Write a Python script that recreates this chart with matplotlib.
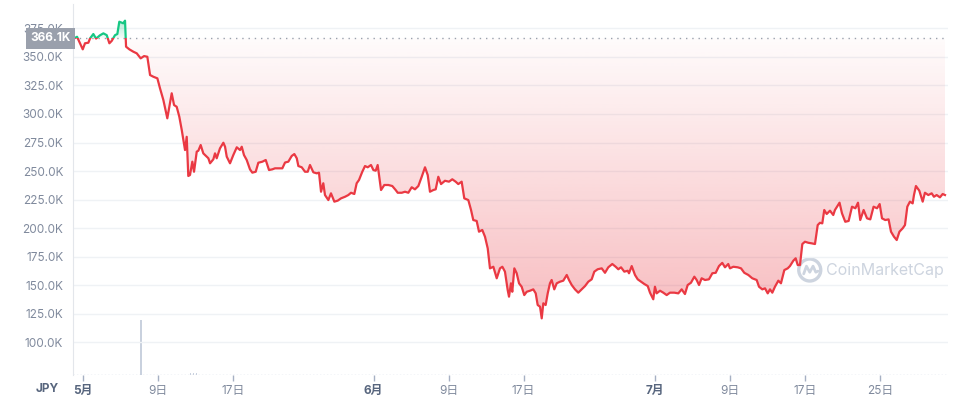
import numpy as np
import pandas as pd
import matplotlib
matplotlib.use("Agg")
import matplotlib.pyplot as plt
import matplotlib.dates as mdates
from matplotlib.path import Path
from matplotlib.patches import Rectangle, Ellipse
from matplotlib.transforms import blended_transform_factory

plt.rcParams['font.family'] = ['Inter', 'Noto Sans CJK JP', 'DejaVu Sans']

# ETH / JPY, 2022-05 .. 2022-07 (values in thousand JPY)
START = "2022-05-01"
day_offsets = [
    -0.96, -0.64, -0.03, 0.21, 0.57, 0.75, 1.10, 1.39, 1.81, 2.17,
    2.53, 2.81, 3.06, 3.41, 3.66, 3.87, 4.13, 4.30, 4.48, 4.59,
    4.94, 5.37, 5.73, 6.15, 6.51, 6.86, 7.15, 7.50, 7.93, 8.21,
    8.57, 8.99, 9.46, 9.71, 9.99, 10.27, 10.53, 10.88, 11.06, 11.23,
    11.41, 11.66, 11.84, 12.13, 12.30, 12.55, 12.83, 13.19, 13.37, 13.55,
    13.90, 14.08, 14.26, 14.61, 14.97, 15.15, 15.33, 15.68, 16.03, 16.40,
    16.75, 16.93, 17.17, 17.46, 17.81, 18.06, 18.42, 18.70, 19.13, 19.49,
    19.84, 20.19, 20.48, 20.91, 21.26, 21.55, 21.90, 22.26, 22.54, 22.80,
    22.97, 23.33, 23.68, 23.97, 24.21, 24.57, 24.93, 25.17, 25.39, 25.63,
    25.81, 26.17, 26.45, 26.81, 27.17, 27.52, 27.95, 28.30, 28.59, 28.94,
    29.19, 29.44, 29.79, 30.08, 30.37, 30.72, 30.97, 31.22, 31.43, 31.79,
    32.14, 32.57, 32.99, 33.35, 33.57, 34.00, 34.35, 34.70, 35.06, 35.41,
    35.77, 36.13, 36.48, 36.77, 37.01, 37.37, 37.62, 37.90, 38.19, 38.61,
    39.04, 39.39, 39.75, 40.03, 40.39, 40.67, 41.10, 41.39, 41.63, 41.99,
    42.24, 42.59, 42.88, 43.17, 43.41, 43.77, 44.13, 44.48, 44.73, 45.01,
    45.30, 45.44, 45.65, 45.79, 46.01, 46.26, 46.51, 46.79, 47.07, 47.33,
    47.68, 48.03, 48.29, 48.50, 48.75, 48.93, 49.10, 49.35, 49.57, 49.81,
    49.99, 50.27, 50.53, 50.88, 51.23, 51.60, 51.84, 52.13, 52.48, 52.83,
    53.19, 53.55, 53.90, 54.26, 54.54, 54.90, 55.33, 55.68, 56.03, 56.46,
    56.82, 57.10, 57.39, 57.74, 58.10, 58.24, 58.53, 58.88, 59.17, 59.52,
    59.87, 60.24, 60.48, 60.83, 61.01, 61.19, 61.55, 61.90, 62.26, 62.61,
    63.07, 63.50, 63.86, 64.21, 64.50, 64.85, 65.21, 65.46, 65.71, 65.99,
    66.35, 66.77, 67.13, 67.49, 67.84, 68.19, 68.48, 68.83, 69.01, 69.37,
    69.84, 70.19, 70.54, 70.97, 71.39, 71.86, 72.11, 72.46, 72.75, 73.04,
    73.28, 73.53, 73.81, 74.17, 74.45, 74.81, 75.17, 75.41, 75.77, 76.02,
    76.24, 76.48, 76.73, 77.01, 77.37, 77.73, 78.08, 78.37, 78.61, 78.86,
    79.07, 79.33, 79.68, 80.03, 80.21, 80.70, 80.96, 81.31, 81.67, 82.03,
    82.39, 82.67, 82.91, 83.27, 83.63, 83.98, 84.33, 84.70, 84.98, 85.23,
    85.58, 85.93, 86.19, 86.51, 86.80, 87.09, 87.44, 87.68, 87.93, 88.21,
    88.50, 88.64, 88.85, 89.21, 89.57, 89.81, 90.17, 90.53, 90.77, 91.06,
    91.41, 91.70, 91.95,
]
prices_k = [
    366.1, 367.6, 356.6, 361.9, 362.4, 366.2, 370.0, 366.0, 368.9, 370.6,
    369.0, 361.9, 364.0, 369.0, 370.0, 380.8, 380.0, 379.4, 381.7, 358.9,
    356.6, 354.5, 353.1, 348.7, 350.7, 350.1, 334.1, 332.6, 331.2, 322.5,
    312.2, 296.2, 318.1, 307.8, 306.3, 297.6, 286.0, 268.4, 280.0, 245.7,
    246.5, 258.2, 249.4, 267.0, 267.8, 272.8, 265.5, 262.6, 261.2, 256.8,
    260.3, 265.5, 261.2, 269.9, 274.8, 271.3, 262.6, 256.8, 264.0, 270.8,
    268.4, 271.3, 264.0, 259.7, 251.5, 248.6, 249.4, 257.3, 258.2, 259.7,
    250.9, 251.5, 252.4, 252.4, 252.4, 257.5, 258.2, 263.2, 264.9, 261.2,
    254.4, 253.3, 249.4, 249.4, 255.3, 248.9, 248.0, 248.6, 231.9, 239.3,
    229.0, 224.6, 230.5, 223.2, 224.1, 226.1, 227.5, 229.0, 231.0, 229.9,
    239.3, 242.2, 249.4, 254.4, 253.3, 255.3, 250.9, 250.3, 255.3, 233.4,
    237.8, 237.8, 236.9, 233.4, 231.0, 231.0, 231.9, 231.0, 235.8, 234.0,
    236.9, 245.0, 253.3, 246.5, 231.9, 233.4, 234.0, 245.0, 238.6, 241.5,
    240.7, 242.8, 240.7, 238.6, 240.7, 226.1, 224.6, 215.9, 207.1, 206.3,
    196.9, 198.4, 192.5, 182.3, 164.8, 166.2, 156.1, 164.8, 166.2, 161.9,
    145.8, 140.0, 151.7, 144.3, 164.8, 160.5, 151.7, 148.7, 141.4, 144.3,
    145.2, 146.4, 142.9, 132.7, 131.2, 121.0, 134.2, 132.7, 142.9, 151.7,
    154.6, 146.4, 151.7, 153.1, 154.0, 159.0, 154.6, 150.2, 146.4, 143.5,
    146.4, 149.3, 153.1, 155.2, 161.9, 164.0, 164.8, 160.9, 165.7, 168.6,
    166.2, 164.0, 165.7, 161.9, 162.7, 160.5, 166.8, 159.0, 155.2, 153.1,
    151.1, 149.3, 143.5, 137.7, 148.7, 142.9, 145.2, 143.5, 141.4, 143.5,
    143.5, 142.9, 146.4, 142.3, 150.2, 152.2, 157.5, 154.6, 150.2, 156.1,
    154.6, 155.2, 160.5, 160.9, 166.8, 169.6, 165.7, 168.6, 164.8, 166.2,
    165.7, 164.8, 160.9, 159.0, 156.1, 154.6, 148.7, 146.4, 147.3, 142.9,
    146.4, 143.5, 148.7, 154.0, 151.7, 163.3, 164.8, 166.8, 171.5, 173.6,
    167.7, 167.7, 186.1, 188.1, 187.2, 186.7, 186.1, 202.7, 204.7, 204.2,
    215.9, 212.4, 215.3, 211.5, 215.9, 222.3, 213.0, 205.6, 206.3, 218.8,
    217.4, 222.3, 207.1, 215.9, 208.6, 207.7, 218.8, 217.4, 221.1, 208.6,
    207.1, 207.7, 196.9, 192.5, 189.6, 196.9, 199.9, 202.7, 218.8, 223.2,
    221.7, 229.0, 236.9, 232.8, 223.2, 231.0, 229.0, 230.5, 227.5, 229.0,
    227.0, 229.9, 229.0,
]
base_price = 366.1

# volume (relative, only the visible bars)
vol_days = [6.19, 11.5, 11.8, 12.1]
vol_vals = [55, 2, 2.5, 2]

tick_dates = ["2022-05-01", "2022-05-09", "2022-05-17", "2022-06-01", "2022-06-09",
              "2022-06-17", "2022-07-01", "2022-07-09", "2022-07-17", "2022-07-25"]
tick_labels = ["5月", "9日", "17日", "6月", "9日", "17日", "7月", "9日", "17日", "25日"]
y_ticks = [100, 125, 150, 175, 200, 225, 250, 275, 300, 325, 350, 375]

RED = "#ea3943"
GREEN = "#16c784"
GRAY = "#808a9d"
MARK = "#cdd4df"

x0 = mdates.date2num(pd.Timestamp(START))
x = x0 + np.array(day_offsets)
y = np.array(prices_k)
xmin, xmax = x0 - 1.07, x0 + 92.27
ymin, ymax = 71.4, 396.3

fig = plt.figure(figsize=(9.6, 4), dpi=100)
ax = fig.add_axes([73 / 960, 25 / 400, 875 / 960, 371 / 400])
ax.set_xlim(xmin, xmax)
ax.set_ylim(ymin, ymax)

# volume on its own axis at the bottom
axv = fig.add_axes(ax.get_position(), sharex=ax)
axv.set_ylim(0, 371)
axv.bar(x0 + np.array(vol_days), vol_vals, width=0.12, color="#c9d1de", zorder=1)
axv.axhline(0.5, color="#c5cfe0", lw=1, ls=(0, (1, 1.5)))
axv.axis("off")
axv.set_zorder(0)
ax.set_zorder(1)
ax.patch.set_alpha(0)

# gradient fill between price and the starting price
poly = ax.fill_between(x, y, base_price, interpolate=True, facecolor="none", edgecolor="none")
clip = Path.make_compound_path(*poly.get_paths())

grad_r = np.zeros((256, 1, 4))
grad_r[:, 0, :3] = matplotlib.colors.to_rgb(RED)
grad_r[:, 0, 3] = np.linspace(0.40, 0.02, 256)
im_r = ax.imshow(grad_r, extent=[xmin, xmax, ymin, base_price], origin="lower",
                 aspect="auto", interpolation="bilinear", zorder=2)
im_r.set_clip_path(clip, transform=ax.transData)

grad_g = np.zeros((256, 1, 4))
grad_g[:, 0, :3] = matplotlib.colors.to_rgb(GREEN)
grad_g[:, 0, 3] = np.linspace(0.05, 0.35, 256)
im_g = ax.imshow(grad_g, extent=[xmin, xmax, base_price, max(prices_k)], origin="lower",
                 aspect="auto", interpolation="bilinear", zorder=2)
im_g.set_clip_path(clip, transform=ax.transData)
ax.set_xlim(xmin, xmax)
ax.set_ylim(ymin, ymax)

# price line: red below start price, green above
line_r, = ax.plot(x, y, color=RED, lw=1.6, zorder=4, solid_joinstyle="round")
line_r.set_clip_path(Rectangle((xmin, ymin), xmax - xmin, base_price - ymin, transform=ax.transData))
line_g, = ax.plot(x, y, color=GREEN, lw=1.6, zorder=4, solid_joinstyle="round")
line_g.set_clip_path(Rectangle((xmin, base_price), xmax - xmin, ymax - base_price, transform=ax.transData))

ax.axhline(base_price, color="#9aa1ad", lw=1, ls=(0, (1, 3.5)), zorder=3)

# axes styling
for side in ["top", "right", "bottom"]:
    ax.spines[side].set_visible(False)
ax.spines["left"].set_color("#e3e6eb")
ax.set_yticks(y_ticks)
ax.set_yticklabels([f"{v:.1f}K" for v in y_ticks])
ax.yaxis.grid(True, color="#eff2f5", lw=1, zorder=0)
ax.tick_params(axis="y", length=0, pad=7, labelsize=8.5, labelcolor=GRAY)

ax.set_xticks(mdates.date2num(pd.to_datetime(tick_dates)))
ax.set_xticklabels(tick_labels)
ax.tick_params(axis="x", length=4, width=1, color="#a6b0c3", pad=3, labelsize=8.5, labelcolor=GRAY)
for lab in ax.get_xticklabels():
    if lab.get_text().endswith("月"):
        lab.set_fontweight("bold")
        lab.set_color("#58667e")

fig.text(47 / 960, 1 - 389 / 400, "JPY", ha="center", va="center",
         fontsize=8.5, fontweight="bold", color="#58667e")

# current price tag (covers part of the 375.0K label, as in the original)
trans = blended_transform_factory(ax.transAxes, ax.transData)
ax.text(-0.003, base_price, "366.1K", transform=trans, ha="right", va="center",
        fontsize=8.5, fontweight="bold", color="white", zorder=6, clip_on=False,
        bbox=dict(boxstyle="square,pad=0.35", fc="#9aa0ac", ec="none"))

# watermark: round logo + name
cx, cy = 0.842, 0.283
rx, ry = 11 / 875, 11 / 371
ax.add_patch(Ellipse((cx, cy), 2 * rx, 2 * ry, transform=ax.transAxes, fill=False,
                     ec=MARK, lw=2.4, zorder=1, clip_on=False))
ax.plot([cx - 0.55 * rx, cx - 0.3 * rx, cx, cx + 0.3 * rx, cx + 0.55 * rx, cx + 0.75 * rx],
        [cy - 0.35 * ry, cy + 0.35 * ry, cy - 0.2 * ry, cy + 0.35 * ry, cy - 0.2 * ry, cy - 0.1 * ry],
        transform=ax.transAxes, color=MARK, lw=2, zorder=1, solid_capstyle="round")
ax.text(0.861, cy, "CoinMarketCap", transform=ax.transAxes, ha="left", va="center",
        fontsize=11.5, color=MARK, zorder=1)

fig.savefig("out.png", dpi=100, facecolor="white")
